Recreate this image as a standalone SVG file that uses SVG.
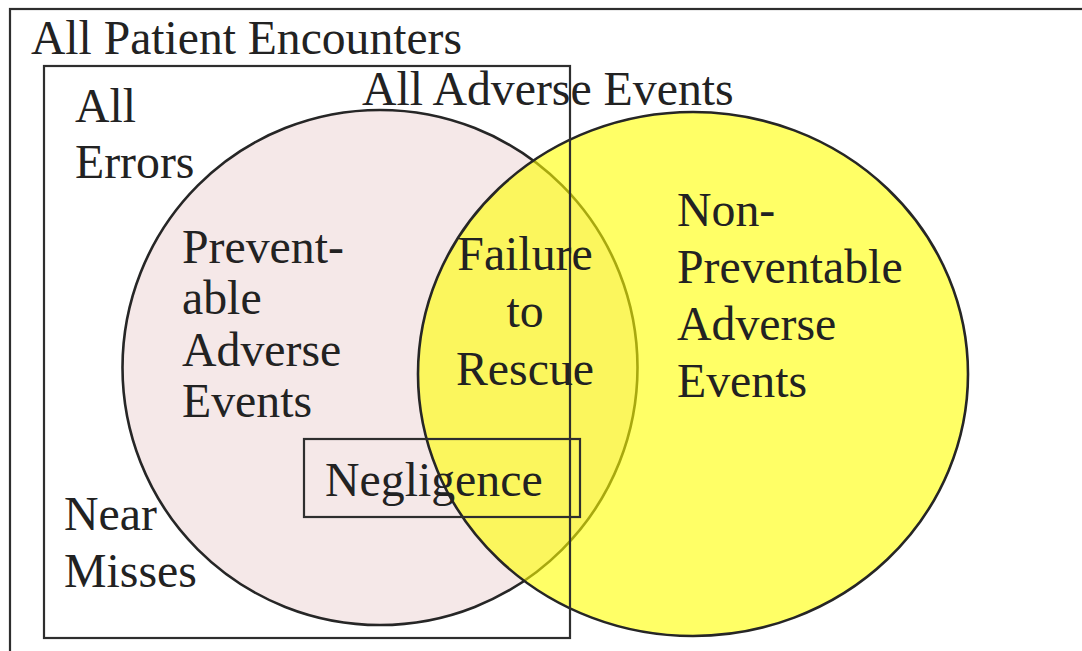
<svg xmlns="http://www.w3.org/2000/svg" width="1082" height="651" viewBox="0 0 1082 651">
  <style>
    text { font-family: 'Liberation Serif', Tinos, 'Times New Roman', serif; font-size: 47.8px; fill: #222222; }
    .box { fill: none; stroke: #2e2e2e; stroke-width: 2.2; }
    .ring { stroke: #262626; stroke-width: 2.6; }
  </style>
  <rect width="1082" height="651" fill="#ffffff"/>

  <!-- outer frame: every patient encounter -->
  <g id="all-patient-encounters">
    <rect class="box" x="10" y="9" width="1090" height="660"/>
    <text x="31" y="54" style="font-size:47.6px">All Patient Encounters</text>
  </g>

  <!-- preventable adverse events (pink disc) -->
  <g id="preventable-adverse-events">
    <circle class="ring" cx="380" cy="367.5" r="257.5" fill="#f5e8e8"/>
  </g>

  <!-- all adverse events (translucent yellow ellipse over the pink disc) -->
  <g id="all-adverse-events">
    <ellipse cx="693" cy="374" rx="275" ry="262" fill="#ffff00" fill-opacity="0.6"/>
    <ellipse class="ring" cx="693" cy="374" rx="275" ry="262" fill="none"/>
  </g>

  <!-- all errors box -->
  <g id="all-errors">
    <rect class="box" x="44" y="66" width="526" height="572"/>
    <text x="75" y="122">All</text>
    <text x="75" y="178">Errors</text>
  </g>

  <!-- negligence box -->
  <g id="negligence">
    <rect class="box" x="304" y="439" width="276" height="78"/>
    <text x="325" y="496">Negligence</text>
  </g>

  <g id="all-adverse-events-label">
    <text x="362" y="105">All Adverse Events</text>
  </g>

  <g id="preventable-label">
    <text x="182" y="263">Prevent-</text>
    <text x="182" y="314">able</text>
    <text x="182" y="366">Adverse</text>
    <text x="182" y="417">Events</text>
  </g>

  <g id="failure-to-rescue">
    <text x="525" y="270" text-anchor="middle">Failure</text>
    <text x="525" y="327" text-anchor="middle">to</text>
    <text x="525" y="385" text-anchor="middle">Rescue</text>
  </g>

  <g id="non-preventable-adverse-events">
    <text x="677" y="226">Non-</text>
    <text x="677" y="283">Preventable</text>
    <text x="677" y="340">Adverse</text>
    <text x="677" y="397">Events</text>
  </g>

  <g id="near-misses">
    <text x="64" y="530">Near</text>
    <text x="64" y="587">Misses</text>
  </g>

  <!-- no connectors in this diagram -->
  <g id="connectors"/>
</svg>
